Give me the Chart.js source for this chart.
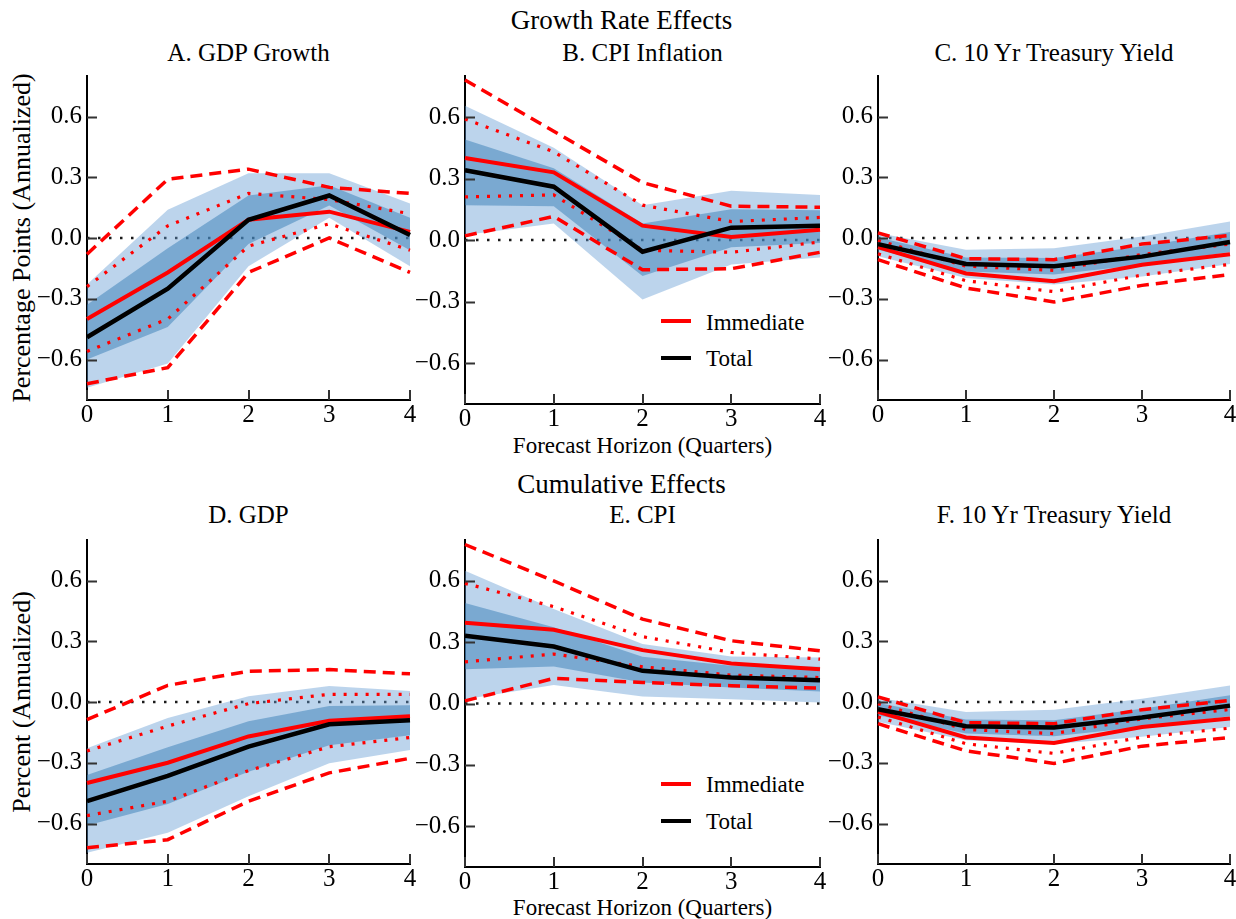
<!DOCTYPE html>
<html lang="en">
<head>
<meta charset="UTF-8">
<title>Growth Rate and Cumulative Effects</title>
<script src="https://cdn.jsdelivr.net/npm/chart.js"></script>
<style>
  * { margin: 0; padding: 0; box-sizing: border-box; }
  body { background: #fff; font-family: 'Liberation Serif', 'Times New Roman', serif; color: #000; }
  #figure { position: relative; width: 1236px; height: 919px; overflow: hidden; background: #fff; }
  #figure canvas { position: absolute; }
  .txt { position: absolute; white-space: nowrap; line-height: 1; transform: translate(-50%, -50%); }
  .suptitle { font-size: 27px; }
  .subtitle { font-size: 25px; }
  .xlabel { font-size: 23px; }
  .ylabel { font-size: 26px; transform: translate(-50%, -50%) rotate(-90deg); }
  .key-line { position: absolute; width: 30px; height: 4px; }
  .key-text { position: absolute; font-size: 23px; line-height: 1; white-space: nowrap; transform: translateY(-50%); }
</style>
</head>
<body>
<div id="figure">
  <div class="txt suptitle" style="left:621.5px; top:19.5px;">Growth Rate Effects</div>
  <div class="txt subtitle" style="left:248.5px; top:52px;">A. GDP Growth</div>
  <div class="txt subtitle" style="left:642.5px; top:52px;">B. CPI Inflation</div>
  <div class="txt subtitle" style="left:1054px; top:52px;">C. 10 Yr Treasury Yield</div>
  <div class="txt xlabel" style="left:642.5px; top:444.5px;">Forecast Horizon (Quarters)</div>
  <div class="txt ylabel" style="left:22px; top:238px;">Percentage Points (Annualized)</div>

  <div class="txt suptitle" style="left:621.5px; top:484px;">Cumulative Effects</div>
  <div class="txt subtitle" style="left:248.5px; top:513.5px;">D. GDP</div>
  <div class="txt subtitle" style="left:642.5px; top:514px;">E. CPI</div>
  <div class="txt subtitle" style="left:1054px; top:513.5px;">F. 10 Yr Treasury Yield</div>
  <div class="txt xlabel" style="left:642.5px; top:907px;">Forecast Horizon (Quarters)</div>
  <div class="txt ylabel" style="left:22px; top:701.5px;">Percent (Annualized)</div>

  <!-- keys inside panels B and E -->
  <div class="key-line" style="left:661px; top:318.7px; background:#ff0000;"></div>
  <div class="key-text" style="left:706px; top:321.5px;">Immediate</div>
  <div class="key-line" style="left:661px; top:355.7px; background:#000;"></div>
  <div class="key-text" style="left:706px; top:358px;">Total</div>
  <div class="key-line" style="left:661px; top:782px; background:#ff0000;"></div>
  <div class="key-text" style="left:706px; top:783.5px;">Immediate</div>
  <div class="key-line" style="left:661px; top:819px; background:#000;"></div>
  <div class="key-text" style="left:706px; top:821px;">Total</div>
</div>

<script>
// horizon and axis ticks shared by all panels
const horizons = ['0', '1', '2', '3', '4'];
const yTicks = [-0.6, -0.3, 0, 0.3, 0.6];
const yTickLabels = ['\u22120.6', '\u22120.3', '0.0', '0.3', '0.6'];
const zeroLine = [0, 0, 0, 0, 0];

// A. GDP growth
const gdpGrowthImm       = [-0.40, -0.17, 0.09, 0.13, 0.03];
const gdpGrowthTot       = [-0.49, -0.25, 0.09, 0.21, 0.015];
const gdpGrowthDotHi     = [-0.24, 0.06, 0.22, 0.19, 0.12];
const gdpGrowthDotLo     = [-0.56, -0.40, -0.04, 0.07, -0.06];
const gdpGrowthDashHi    = [-0.08, 0.29, 0.34, 0.25, 0.22];
const gdpGrowthDashLo    = [-0.72, -0.64, -0.17, 0.00, -0.17];
const gdpGrowthOuterHi   = [-0.23, 0.14, 0.32, 0.32, 0.17];
const gdpGrowthOuterLo   = [-0.74, -0.62, -0.14, 0.10, -0.14];
const gdpGrowthInnerHi   = [-0.33, -0.05, 0.21, 0.26, 0.10];
const gdpGrowthInnerLo   = [-0.60, -0.44, -0.03, 0.16, -0.06];

// B. CPI inflation
const cpiInflImm         = [0.40, 0.33, 0.07, 0.015, 0.05];
const cpiInflTot         = [0.34, 0.26, -0.057, 0.06, 0.07];
const cpiInflDotHi       = [0.59, 0.43, 0.17, 0.09, 0.11];
const cpiInflDotLo       = [0.21, 0.22, -0.05, -0.06, -0.01];
const cpiInflDashHi      = [0.78, 0.53, 0.28, 0.165, 0.16];
const cpiInflDashLo      = [0.02, 0.115, -0.145, -0.14, -0.06];
const cpiInflOuterHi     = [0.655, 0.45, 0.17, 0.24, 0.22];
const cpiInflOuterLo     = [0.025, 0.08, -0.29, -0.12, -0.085];
const cpiInflInnerHi     = [0.49, 0.35, 0.08, 0.15, 0.145];
const cpiInflInnerLo     = [0.17, 0.165, -0.175, -0.035, -0.015];

// C. 10 yr yield (growth rate block)
const yieldRateImm       = [-0.045, -0.175, -0.213, -0.132, -0.08];
const yieldRateTot       = [-0.03, -0.128, -0.14, -0.092, -0.02];
const yieldRateDotHi     = [-0.012, -0.139, -0.16, -0.081, -0.03];
const yieldRateDotLo     = [-0.078, -0.211, -0.265, -0.183, -0.13];
const yieldRateDashHi    = [0.025, -0.102, -0.107, -0.03, 0.013];
const yieldRateDashLo    = [-0.107, -0.247, -0.316, -0.234, -0.18];
const yieldRateOuterHi   = [0.025, -0.058, -0.05, 0.008, 0.082];
const yieldRateOuterLo   = [-0.09, -0.198, -0.23, -0.19, -0.128];
const yieldRateInnerHi   = [0.003, -0.096, -0.099, -0.041, 0.03];
const yieldRateInnerLo   = [-0.058, -0.165, -0.18, -0.132, -0.069];

// D. GDP (cumulative)
const gdpLevelImm        = [-0.40, -0.30, -0.17, -0.093, -0.07];
const gdpLevelTot        = [-0.49, -0.365, -0.22, -0.11, -0.09];
const gdpLevelDotHi      = [-0.242, -0.119, -0.008, 0.038, 0.038];
const gdpLevelDotLo      = [-0.561, -0.49, -0.339, -0.221, -0.175];
const gdpLevelDashHi     = [-0.087, 0.082, 0.152, 0.16, 0.139];
const gdpLevelDashLo     = [-0.72, -0.68, -0.49, -0.35, -0.278];
const gdpLevelOuterHi    = [-0.229, -0.079, 0.028, 0.079, 0.054];
const gdpLevelOuterLo    = [-0.745, -0.646, -0.466, -0.303, -0.237];
const gdpLevelInnerHi    = [-0.36, -0.224, -0.095, -0.02, -0.016];
const gdpLevelInnerLo    = [-0.61, -0.504, -0.344, -0.213, -0.164];

// E. CPI (cumulative)
const cpiLevelImm        = [0.395, 0.361, 0.261, 0.196, 0.168];
const cpiLevelTot        = [0.332, 0.279, 0.16, 0.127, 0.114];
const cpiLevelDotHi      = [0.588, 0.474, 0.327, 0.25, 0.217];
const cpiLevelDotLo      = [0.204, 0.242, 0.18, 0.139, 0.127];
const cpiLevelDashHi     = [0.778, 0.60, 0.413, 0.307, 0.258];
const cpiLevelDashLo     = [0.013, 0.123, 0.103, 0.087, 0.075];
const cpiLevelOuterHi    = [0.65, 0.462, 0.291, 0.23, 0.225];
const cpiLevelOuterLo    = [0.021, 0.09, 0.034, 0.021, 0.005];
const cpiLevelInnerHi    = [0.492, 0.373, 0.229, 0.185, 0.18];
const cpiLevelInnerLo    = [0.168, 0.181, 0.103, 0.078, 0.059];

// F. 10 yr yield (cumulative block)
const yieldLevelImm      = [-0.049, -0.175, -0.202, -0.123, -0.082];
const yieldLevelTot      = [-0.036, -0.12, -0.126, -0.077, -0.018];
const yieldLevelDotHi    = [-0.008, -0.136, -0.156, -0.083, -0.037];
const yieldLevelDotLo    = [-0.074, -0.206, -0.254, -0.173, -0.129];
const yieldLevelDashHi   = [0.025, -0.102, -0.107, -0.038, 0.008];
const yieldLevelDashLo   = [-0.107, -0.241, -0.303, -0.218, -0.175];
const yieldLevelOuterHi  = [0.021, -0.049, -0.038, 0.016, 0.082];
const yieldLevelOuterLo  = [-0.098, -0.189, -0.208, -0.172, -0.123];
const yieldLevelInnerHi  = [-0.005, -0.087, -0.09, -0.033, 0.033];
const yieldLevelInnerLo  = [-0.066, -0.156, -0.169, -0.123, -0.07];

// plot boxes: [left, top, right, bottom] in page pixels
const panels = [
  { rect: [87, 76, 410, 400],  imm: gdpGrowthImm, tot: gdpGrowthTot, dotHi: gdpGrowthDotHi, dotLo: gdpGrowthDotLo,
    dashHi: gdpGrowthDashHi, dashLo: gdpGrowthDashLo, outerHi: gdpGrowthOuterHi, outerLo: gdpGrowthOuterLo,
    innerHi: gdpGrowthInnerHi, innerLo: gdpGrowthInnerLo },
  { rect: [465, 76, 820, 404], imm: cpiInflImm, tot: cpiInflTot, dotHi: cpiInflDotHi, dotLo: cpiInflDotLo,
    dashHi: cpiInflDashHi, dashLo: cpiInflDashLo, outerHi: cpiInflOuterHi, outerLo: cpiInflOuterLo,
    innerHi: cpiInflInnerHi, innerLo: cpiInflInnerLo },
  { rect: [878, 76, 1230, 400], imm: yieldRateImm, tot: yieldRateTot, dotHi: yieldRateDotHi, dotLo: yieldRateDotLo,
    dashHi: yieldRateDashHi, dashLo: yieldRateDashLo, outerHi: yieldRateOuterHi, outerLo: yieldRateOuterLo,
    innerHi: yieldRateInnerHi, innerLo: yieldRateInnerLo },
  { rect: [87, 540, 410, 864], imm: gdpLevelImm, tot: gdpLevelTot, dotHi: gdpLevelDotHi, dotLo: gdpLevelDotLo,
    dashHi: gdpLevelDashHi, dashLo: gdpLevelDashLo, outerHi: gdpLevelOuterHi, outerLo: gdpLevelOuterLo,
    innerHi: gdpLevelInnerHi, innerLo: gdpLevelInnerLo },
  { rect: [465, 540, 820, 867], imm: cpiLevelImm, tot: cpiLevelTot, dotHi: cpiLevelDotHi, dotLo: cpiLevelDotLo,
    dashHi: cpiLevelDashHi, dashLo: cpiLevelDashLo, outerHi: cpiLevelOuterHi, outerLo: cpiLevelOuterLo,
    innerHi: cpiLevelInnerHi, innerLo: cpiLevelInnerLo },
  { rect: [878, 540, 1230, 864], imm: yieldLevelImm, tot: yieldLevelTot, dotHi: yieldLevelDotHi, dotLo: yieldLevelDotLo,
    dashHi: yieldLevelDashHi, dashLo: yieldLevelDashLo, outerHi: yieldLevelOuterHi, outerLo: yieldLevelOuterLo,
    innerHi: yieldLevelInnerHi, innerLo: yieldLevelInnerLo }
];

const LIGHT_BAND = 'rgba(100, 155, 210, 0.43)';
const DARK_BAND = 'rgba(58, 128, 184, 0.5)';
const RED = '#ff0000';

// room around the plot box for tick labels
const PAD_L = 85, PAD_T = 6, PAD_R = 16, PAD_B = 40;

// matlab-style tick marks pointing into the plot
const inwardTicks = {
  id: 'inwardTicks',
  afterDraw(chart) {
    const { ctx, chartArea, scales } = chart;
    ctx.save();
    ctx.strokeStyle = '#333';
    ctx.lineWidth = 2;
    ctx.beginPath();
    yTicks.forEach(v => {
      const py = Math.round(scales.y.getPixelForValue(v)) + 0.5;
      ctx.moveTo(chartArea.left, py);
      ctx.lineTo(chartArea.left + 10, py);
    });
    horizons.forEach((h, i) => {
      const px = Math.round(scales.x.getPixelForTick(i));
      ctx.moveTo(px, chartArea.bottom);
      ctx.lineTo(px, chartArea.bottom - 10);
    });
    ctx.stroke();
    ctx.restore();
  }
};

function band(data, color, order) {
  return { data, borderColor: 'rgba(0,0,0,0)', borderWidth: 0, pointRadius: 0,
           backgroundColor: color, fill: color ? '+1' : false, order };
}

function line(data, color, width, dash, order) {
  return { data, borderColor: color, borderWidth: width, borderDash: dash, borderCapStyle: 'butt',
           pointRadius: 0, fill: false, tension: 0, order };
}

const figure = document.getElementById('figure');

panels.forEach(p => {
  const [L, T, R, B] = p.rect;
  const canvas = document.createElement('canvas');
  const w = (R - L) + PAD_L + PAD_R;
  const h = (B - T) + PAD_T + PAD_B;
  canvas.width = w;
  canvas.height = h;
  canvas.style.left = (L - PAD_L) + 'px';
  canvas.style.top = (T - PAD_T) + 'px';
  canvas.style.width = w + 'px';
  canvas.style.height = h + 'px';
  figure.appendChild(canvas);

  new Chart(canvas.getContext('2d'), {
    type: 'line',
    data: {
      labels: horizons,
      datasets: [
        band(p.outerHi, LIGHT_BAND, 9),
        band(p.outerLo, null, 9),
        band(p.innerHi, DARK_BAND, 8),
        band(p.innerLo, null, 8),
        line(zeroLine, '#1a1a1a', 2.5, [2.5, 8.5], 10),
        line(p.dotHi, RED, 3.2, [3, 8], 5),
        line(p.dotLo, RED, 3.2, [3, 8], 5),
        line(p.dashHi, RED, 3.5, [12, 7], 4),
        line(p.dashLo, RED, 3.5, [12, 7], 4),
        line(p.imm, RED, 4, [], 2),
        line(p.tot, '#000', 4.5, [], 1)
      ]
    },
    options: {
      responsive: false,
      animation: false,
      events: [],
      layout: { padding: { left: 0, top: PAD_T, right: PAD_R, bottom: 0 } },
      plugins: { legend: { display: false }, tooltip: { enabled: false } },
      scales: {
        x: {
          type: 'category',
          offset: false,
          grid: { display: false, drawTicks: false },
          border: { display: true, color: '#000', width: 2 },
          ticks: { color: '#000', padding: 0, autoSkip: false, maxRotation: 0,
                   font: { family: "'Liberation Serif', 'Times New Roman', serif", size: 25 } },
          afterFit(s) { s.height = PAD_B; s.paddingLeft = 0; s.paddingRight = 0; }
        },
        y: {
          min: -0.8,
          max: 0.8,
          grid: { display: false, drawTicks: false },
          border: { display: true, color: '#000', width: 2 },
          ticks: { color: '#000', padding: 5,
                   font: { family: "'Liberation Serif', 'Times New Roman', serif", size: 25 },
                   callback: v => yTickLabels[yTicks.indexOf(v)] },
          afterBuildTicks(s) { s.ticks = yTicks.map(v => ({ value: v })); },
          afterFit(s) { s.width = PAD_L; s.paddingTop = 0; s.paddingBottom = 0; }
        }
      }
    },
    plugins: [inwardTicks]
  });
});
</script>
</body>
</html>
